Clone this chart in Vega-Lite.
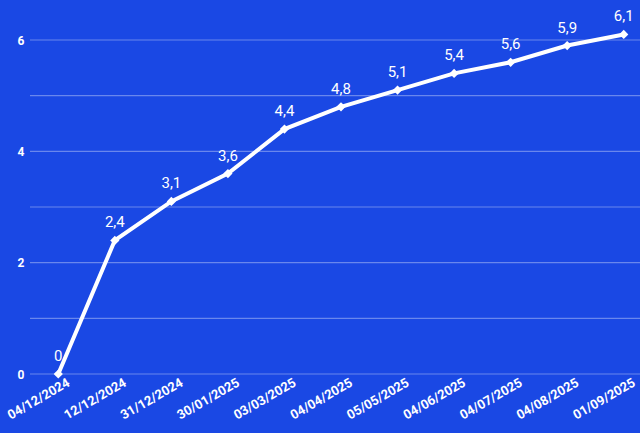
{
  "$schema": "https://vega.github.io/schema/vega-lite/v6.json",
  "width": 622,
  "height": 334,
  "autosize": {"type": "none"},
  "padding": {"left": 30, "top": 40, "right": 0, "bottom": 59},
  "background": "#1a48e4",
  "data": {
    "values": [
      {"date": "04/12/2024", "value": 0},
      {"date": "12/12/2024", "value": 2.4},
      {"date": "31/12/2024", "value": 3.1},
      {"date": "30/01/2025", "value": 3.6},
      {"date": "03/03/2025", "value": 4.4},
      {"date": "04/04/2025", "value": 4.8},
      {"date": "05/05/2025", "value": 5.1},
      {"date": "04/06/2025", "value": 5.4},
      {"date": "04/07/2025", "value": 5.6},
      {"date": "04/08/2025", "value": 5.9},
      {"date": "01/09/2025", "value": 6.1}
    ]
  },
  "encoding": {
    "x": {
      "field": "date",
      "type": "ordinal",
      "sort": null,
      "scale": {"type": "point", "padding": 0.5},
      "axis": {
        "title": null,
        "labelAngle": -30,
        "labelAlign": "right",
        "labelBaseline": "top",
        "labelFont": "Roboto",
        "labelFontWeight": "bold",
        "labelFontSize": 13,
        "labelColor": "#ffffff",
        "labelPadding": 2,
        "labelOffset": 7,
        "ticks": false,
        "domain": false,
        "grid": false
      }
    },
    "y": {
      "field": "value",
      "type": "quantitative",
      "scale": {"domain": [0, 6], "nice": false},
      "axis": {
        "title": null,
        "values": [0, 2, 4, 6],
        "labelFont": "Roboto",
        "labelFontWeight": "bold",
        "labelFontSize": 12,
        "labelColor": "#ffffff",
        "labelPadding": 6,
        "ticks": false,
        "domain": false,
        "grid": false
      }
    }
  },
  "layer": [
    {
      "mark": {"type": "rule", "color": "#ffffff", "opacity": 0.35, "strokeWidth": 1.2},
      "data": {"values": [{"g": 0}, {"g": 1}, {"g": 2}, {"g": 3}, {"g": 4}, {"g": 5}, {"g": 6}]},
      "encoding": {
        "y": {"field": "g", "type": "quantitative"},
        "x": null
      }
    },
    {
      "mark": {"type": "line", "color": "#ffffff", "strokeWidth": 4, "clip": false}
    },
    {
      "mark": {"type": "point", "shape": "diamond", "filled": true, "color": "#ffffff", "opacity": 1, "size": 85, "clip": false}
    },
    {
      "mark": {"type": "text", "color": "#ffffff", "font": "Roboto", "fontSize": 15, "dy": -18, "clip": false},
      "encoding": {
        "text": {"field": "value", "type": "quantitative", "format": "~r"}
      }
    }
  ],
  "config": {
    "locale": {
      "number": {"decimal": ",", "thousands": ".", "grouping": [3], "currency": ["", " €"]}
    },
    "view": {"stroke": null}
  }
}
